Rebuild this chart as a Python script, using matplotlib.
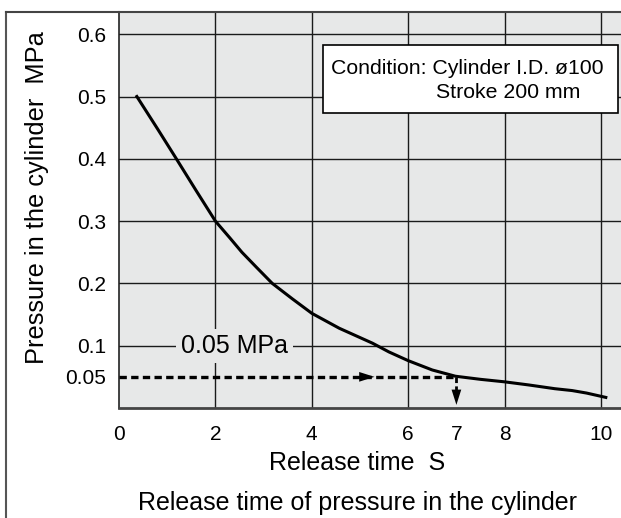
import matplotlib
matplotlib.use("Agg")
import matplotlib.pyplot as plt
from matplotlib.lines import Line2D
from matplotlib.patches import Rectangle

plt.rcParams['font.family'] = ['Liberation Sans', 'DejaVu Sans']

# release curve (time s, pressure MPa)
time_s = [0.37, 0.8, 1.19, 1.6, 2.0, 2.3, 2.55, 2.85, 3.18, 3.6, 4.0, 4.57, 5.26, 5.6, 6.0, 6.5, 6.98, 7.5, 8.0, 8.5, 9.04, 9.4, 9.7, 10.1]
pressure = [0.5, 0.448, 0.4, 0.349, 0.3, 0.273, 0.25, 0.226, 0.2, 0.175, 0.152, 0.128, 0.104, 0.09, 0.076, 0.061, 0.051, 0.046, 0.042, 0.037, 0.031, 0.028, 0.024, 0.017]

x_ticks = [0, 2, 4, 6, 7, 8, 10]
y_ticks = [0.05, 0.1, 0.2, 0.3, 0.4, 0.5, 0.6]
y_tick_labels = ['0.05', '0.1', '0.2', '0.3', '0.4', '0.5', '0.6']
x_grid = [2, 4, 6, 8, 10]
y_grid = [0.1, 0.2, 0.3, 0.4, 0.5, 0.6]

target_p = 0.05      # MPa
target_t = 7         # s

bg = '#e7e8e8'
W, H = 621, 518

fig = plt.figure(figsize=(6.21, 5.18), dpi=100)
ax = fig.add_axes([119 / W, 1 - 408 / H, 502 / W, 396 / H])
ax.set_facecolor(bg)
ax.set_xlim(0, 502 / 48.2)
ax.set_ylim(0, 396 / 623)

for gx in x_grid:
    ax.axvline(gx, color='#1a1a1a', lw=1.0, zorder=1)
for gy in y_grid:
    ax.axhline(gy, color='#1a1a1a', lw=1.0, zorder=1)

ax.plot(time_s, pressure, color='black', lw=2.2, solid_joinstyle='round', zorder=4)

# dashed guide lines with arrows
ax.plot([0, target_t], [target_p, target_p], color='black', lw=2.4,
        linestyle=(0, (2.2, 1.3)), zorder=3)
ax.plot([target_t, target_t], [target_p, 0.028], color='black', lw=2.0,
        linestyle=(0, (2.0, 1.2)), zorder=3)
ax.annotate('', xy=(5.3, target_p), xytext=(4.95, target_p),
            arrowprops=dict(arrowstyle='-|>,head_length=1.1,head_width=0.35',
                            color='black', lw=0, shrinkA=0, shrinkB=0), zorder=5)
ax.annotate('', xy=(target_t, 0.005), xytext=(target_t, 0.04),
            arrowprops=dict(arrowstyle='-|>,head_length=1.1,head_width=0.35',
                            color='black', lw=0, shrinkA=0, shrinkB=0), zorder=5)

ax.text(2.4, 0.1, '0.05 MPa', fontsize=18, ha='center', va='center', zorder=2,
        bbox=dict(fc=bg, ec='none', boxstyle='square,pad=0.2'))

# condition box
fig.add_artist(Rectangle((323 / W, 1 - 113 / H), 295 / W, 68 / H, transform=fig.transFigure,
                         fc='white', ec='black', lw=1.2, zorder=6))
fig.text(331 / W, 1 - 68 / H, 'Condition: Cylinder I.D. ø100', fontsize=15.3,
         ha='left', va='center', zorder=7)
fig.text(436 / W, 1 - 93 / H, 'Stroke 200 mm', fontsize=15.3,
         ha='left', va='center', zorder=7)

ax.set_xticks(x_ticks)
ax.set_xticklabels([str(t) for t in x_ticks])
ax.set_yticks(y_ticks)
ax.set_yticklabels(y_tick_labels)
ax.tick_params(length=0, labelsize=15)
ax.tick_params(axis='x', pad=12)
ax.tick_params(axis='y', pad=9)

ax.spines['right'].set_visible(False)
ax.spines['left'].set_color('#222222')
ax.spines['left'].set_linewidth(1.2)
ax.spines['top'].set_color('#444444')
ax.spines['top'].set_linewidth(1.5)
ax.spines['bottom'].set_color('#444444')
ax.spines['bottom'].set_linewidth(2.0)

fig.text(37 / W, 1 - 198 / H, 'Pressure in the cylinder  MPa', rotation=90,
         fontsize=18.3, ha='center', va='center')
fig.text(357 / W, 1 - 463 / H, 'Release time  S', fontsize=18,
         ha='center', va='center')
fig.text(357 / W, 1 - 503 / H, 'Release time of pressure in the cylinder',
         fontsize=18, ha='center', va='center')

# outer frame of the figure panel
fig.add_artist(Line2D([6 / W, 6 / W], [0, 1 - 12 / H], color='#555555', lw=1.5))
fig.add_artist(Line2D([6 / W, 119 / W], [1 - 12 / H, 1 - 12 / H], color='#444444', lw=1.5))

fig.savefig('out.png', dpi=100)
